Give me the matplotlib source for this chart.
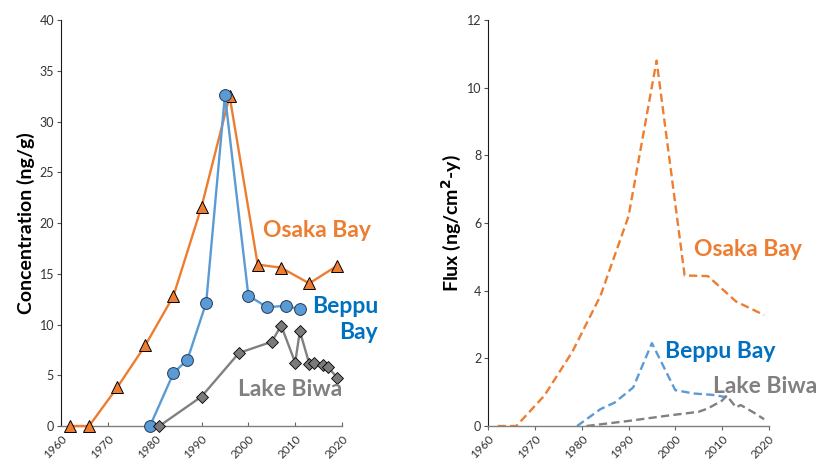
import matplotlib
matplotlib.use("Agg")
import matplotlib.pyplot as plt

plt.rcParams['font.family'] = ['Lato', 'DejaVu Sans']

# concentration data (ng/g)
osaka_yr = [1962, 1966, 1972, 1978, 1984, 1990, 1996, 2002, 2007, 2013, 2019]
osaka_conc = [0, 0, 3.8, 7.95, 12.8, 21.6, 32.5, 15.9, 15.6, 14.05, 15.8]

beppu_yr = [1979, 1984, 1987, 1991, 1995, 2000, 2004, 2008, 2011]
beppu_conc = [0, 5.2, 6.55, 12.15, 32.6, 12.85, 11.7, 11.85, 11.5]

biwa_yr = [1981, 1990, 1998, 2005, 2007, 2010, 2011, 2013, 2014, 2016, 2017, 2019]
biwa_conc = [0, 2.9, 7.2, 8.3, 9.9, 6.25, 9.35, 6.15, 6.25, 6.0, 5.8, 4.75]

# flux data (ng/cm2-y)
osaka_flux = [0, 0, 0.9, 2.2, 3.85, 6.2, 10.8, 4.45, 4.43, 3.68, 3.28]
beppu_flux = [0, 0.5, 0.69, 1.14, 2.45, 1.06, 0.96, 0.92, 0.85]
biwa_flux = [0, 0.15, 0.3, 0.42, 0.52, 0.75, 0.9, 0.55, 0.62, 0.46, 0.38, 0.2]

c_or = '#ED7D31'
c_bl = '#5B9BD5'
c_gr = '#808080'
t_bl = '#0070C0'

fig = plt.figure(figsize=(8.2, 4.61), dpi=100)
ax1 = fig.add_axes([0.0744, 0.0759, 0.3427, 0.8807])
ax2 = fig.add_axes([0.5955, 0.0759, 0.342, 0.8807])

ax1.plot(osaka_yr, osaka_conc, color=c_or, lw=1.7, marker='^', ms=9,
         mfc=c_or, mec='black', mew=0.7, zorder=3, clip_on=False)
ax1.plot(beppu_yr, beppu_conc, color=c_bl, lw=1.7, marker='o', ms=8.5,
         mfc=c_bl, mec='#1f3b57', mew=0.7, zorder=3, clip_on=False)
ax1.plot(biwa_yr, biwa_conc, color=c_gr, lw=1.7, marker='D', ms=6.3,
         mfc='#7a7a7a', mec='black', mew=0.6, zorder=3, clip_on=False)

ax2.plot(osaka_yr, osaka_flux, color=c_or, lw=1.7, ls=(0, (3.5, 1.8)))
ax2.plot(beppu_yr, beppu_flux, color=c_bl, lw=1.7, ls=(0, (3.5, 1.8)))
ax2.plot(biwa_yr, biwa_flux, color=c_gr, lw=1.7, ls=(0, (3.5, 1.8)))

for ax, top, step in [(ax1, 40, 5), (ax2, 12, 2)]:
    ax.set_xlim(1960, 2020)
    ax.set_ylim(0, top)
    ax.set_xticks(range(1960, 2021, 10))
    ax.set_yticks(range(0, top + 1, step))
    ax.spines['top'].set_visible(False)
    ax.spines['right'].set_visible(False)
    ax.spines['left'].set_color('#1a1a1a')
    ax.spines['bottom'].set_color('#7f7f7f')
    ax.spines['bottom'].set_linewidth(1.0)
    ax.tick_params(axis='y', direction='out', length=3, width=0.8, color='#555555',
                   labelsize=9, labelcolor='#333333', pad=2)
    ax.tick_params(axis='x', length=3, width=0.8, color='#666666',
                   labelsize=8.5, labelcolor='#333333')
    for lab in ax.get_xticklabels():
        lab.set_rotation(45)
        lab.set_ha('right')
        lab.set_rotation_mode('anchor')

# left panel has its x ticks pointing inward
ax1.tick_params(axis='x', direction='in', pad=5)
ax2.tick_params(axis='x', direction='out', pad=2)

ax1.set_ylabel('Concentration (ng/g)', fontsize=14, fontweight='bold', labelpad=3)
ax2.set_ylabel('Flux (ng/cm$^{\\mathbf{2}}$-y)', fontsize=14, fontweight='bold', labelpad=3)

kw = dict(fontsize=16.5, fontweight='bold', clip_on=False)
ax1.text(2014.7, 19.3, 'Osaka Bay', color=c_or, ha='center', va='center', **kw)
ax1.text(2027.7, 10.5, 'Beppu\nBay', color=t_bl, ha='right', va='center',
         linespacing=1.3, **kw)
ax1.text(2009.0, 3.6, 'Lake Biwa', color=c_gr, ha='center', va='center', **kw)

ax2.text(2015.65, 5.22, 'Osaka Bay', color=c_or, ha='center', va='center', **kw)
ax2.text(2009.7, 2.2, 'Beppu Bay', color=t_bl, ha='center', va='center', **kw)
ax2.text(2019.3, 1.16, 'Lake Biwa', color=c_gr, ha='center', va='center', **kw)

fig.savefig('out.png', dpi=100)
